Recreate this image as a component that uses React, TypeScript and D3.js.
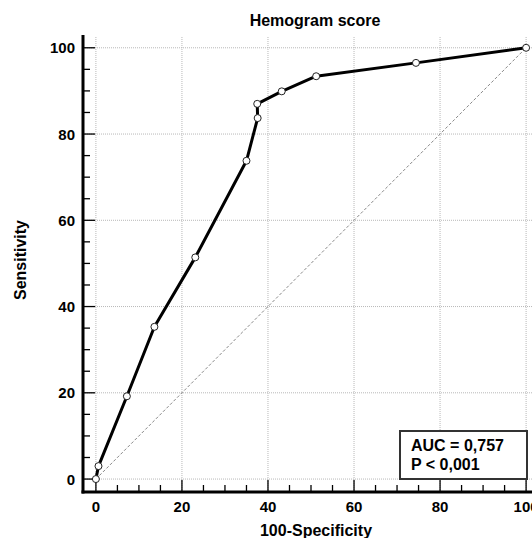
import React from 'react';
import { scaleLinear, line, range } from 'd3';

// ROC points (100-Specificity, Sensitivity)
const fpr = [0, 0.6, 7.2, 13.6, 23.1, 35.0, 37.6, 37.5, 43.2, 51.2, 74.4, 100];
const tpr = [0, 3.0, 19.2, 35.3, 51.4, 73.8, 83.7, 87.0, 89.9, 93.4, 96.5, 100];
const majorTicks = [0, 20, 40, 60, 80, 100];
const minorTicks = range(0, 101, 5);
const title = 'Hemogram score';
const xTitle = '100-Specificity';
const yTitle = 'Sensitivity';
const statLines = ['AUC = 0,757', 'P < 0,001'];

const W = 532;
const H = 538;
const font = '"Liberation Sans", Arial, sans-serif';

export default function App() {
  const x = scaleLinear().domain([-3, 103]).range([83, 539]);
  const y = scaleLinear().domain([-3, 102.5]).range([492, 37]);

  const pts = fpr.map((d, i) => [d, tpr[i]] as [number, number]);
  const roc = line<[number, number]>()
    .x(d => x(d[0]))
    .y(d => y(d[1]));

  const axisX = x(-3);
  const axisY = y(-3);

  return (
    <svg
      width={W}
      height={H}
      style={{ position: 'absolute', left: 0, top: 0, background: '#fff' }}
      fontFamily={font}
      fontWeight="bold"
    >
      <rect width={W} height={H} fill="#fff" />

      {/* grid */}
      {majorTicks.map(t => (
        <g key={'g' + t}>
          <line x1={x(t)} x2={x(t)} y1={y(102.5)} y2={axisY} stroke="#b8b8b8" strokeDasharray="1,1" />
          <line x1={axisX} x2={W} y1={y(t)} y2={y(t)} stroke="#b8b8b8" strokeDasharray="1,1" />
        </g>
      ))}

      {/* reference diagonal */}
      <line x1={x(0)} y1={y(0)} x2={x(100)} y2={y(100)} stroke="#888" strokeDasharray="3,2" />

      {/* y axis */}
      <line x1={axisX} x2={axisX} y1={35} y2={axisY + 1.5} stroke="#000" strokeWidth={3} />
      {minorTicks.map(t => (
        <line key={'yt' + t} x1={axisX} x2={axisX + (t % 20 === 0 ? 12 : 7)} y1={y(t)} y2={y(t)} stroke="#000" strokeWidth={1.3} />
      ))}
      {majorTicks.map(t => (
        <text key={'yl' + t} x={75} y={y(t) + 5.5} textAnchor="end" fontSize={15}>
          {t}
        </text>
      ))}

      {/* x axis */}
      <line x1={axisX - 1.5} x2={W} y1={axisY} y2={axisY} stroke="#000" strokeWidth={3} />
      {minorTicks.map(t => (
        <line key={'xt' + t} x1={x(t)} x2={x(t)} y1={axisY} y2={axisY - (t % 20 === 0 ? 12 : 7)} stroke="#000" strokeWidth={1.3} />
      ))}
      {majorTicks.map(t => (
        <text key={'xl' + t} x={x(t)} y={512} textAnchor="middle" fontSize={15}>
          {t}
        </text>
      ))}

      {/* ROC curve */}
      <path d={roc(pts) || ''} fill="none" stroke="#000" strokeWidth={3} strokeLinejoin="round" />
      {pts.map((d, i) => (
        <circle key={'p' + i} cx={x(d[0])} cy={y(d[1])} r={3.5} fill="#fff" stroke="#222" strokeWidth={1} />
      ))}

      {/* titles */}
      <text x={315} y={26} textAnchor="middle" fontSize={16}>{title}</text>
      <text x={316} y={536} textAnchor="middle" fontSize={16}>{xTitle}</text>
      <text transform="translate(26,260) rotate(-90)" textAnchor="middle" fontSize={16}>{yTitle}</text>

      {/* stats box */}
      <rect x={400} y={431} width={127} height={48} fill="#fff" stroke="#333" strokeWidth={2} />
      {statLines.map((s, i) => (
        <text key={s} x={411} y={451 + i * 19} fontSize={16}>{s}</text>
      ))}
    </svg>
  );
}
